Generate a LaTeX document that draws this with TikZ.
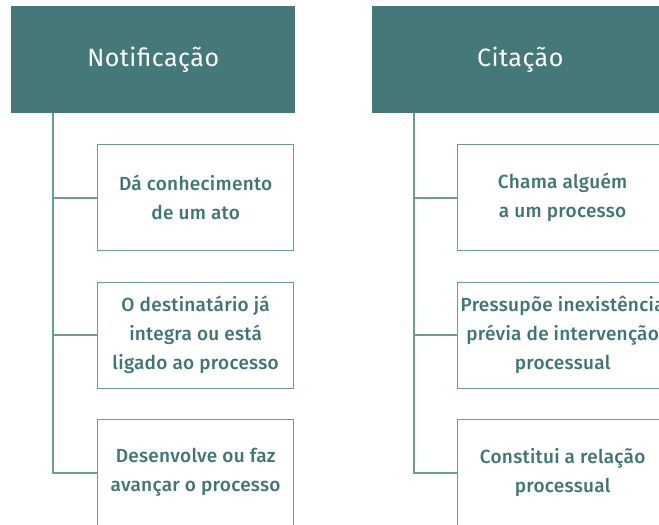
\documentclass[tikz,border=0pt]{standalone}
\usepackage{fontspec}
\setmainfont{Fira Sans}[UprightFont={* Medium},LetterSpace=1.5]
\newfontfamily\headfont{Fira Sans}[LetterSpace=2]
\usepackage{tikz}

\definecolor{headteal}{HTML}{457878}
\definecolor{textteal}{HTML}{3E7575}
\definecolor{lineteal}{HTML}{6B9C9C}

\begin{document}
\begin{tikzpicture}[x=1pt,y=-1pt,
			head node/.style={rectangle,fill=headteal,text=white,inner sep=0pt,minimum height=107pt,anchor=north west,font=\headfont\fontsize{25}{29}\selectfont},
			item node/.style={rectangle,draw=lineteal,line width=1.3pt,text=textteal,inner sep=0pt,minimum height=106pt,align=center,anchor=north west,font=\fontsize{19}{29}\selectfont},
			branch/.style={draw=lineteal,line width=1.8pt}
			]
			
			\def \gap {137.5};
			\def \off {42};
			
			\useasboundingbox (0,0) rectangle (659,525);
			
			% left column
			\node[head node,minimum width=284pt] at (11,6) (N) {Notificação};
			\foreach \txt [count=\i] in {{Dá conhecimento\\de um ato},{O destinatário já\\integra ou está\\ligado ao processo},{Desenvolve ou faz\\avançar o processo}} {
				\node[item node,minimum width=196pt] at (97,{144+\gap*(\i-1)}) (n\i) {\txt};
			}
			
			% right column
			\node[head node,minimum width=296pt] at (372,6) (C) {Citação};
			\foreach \txt [count=\i] in {{Chama alguém\\a um processo},{Pressupõe inexistência\\prévia de intervenção\\processual},{Constitui a relação\\processual}} {
				\node[item node,minimum width=210pt] at (457,{144+\gap*(\i-1)}) (c\i) {\txt};
			}
			
			\coordinate (Nt) at ([xshift=\off pt]N.south west);
			\coordinate (Ct) at ([xshift=\off pt]C.south west);
			
			\draw[branch] (Nt) |- (n3.west);
			\draw[branch] (Ct) |- (c3.west);
			\foreach \i in {1,2} {
				\draw[branch] (n\i.west -| Nt) -- (n\i.west);
				\draw[branch] (c\i.west -| Ct) -- (c\i.west);
			}
		\end{tikzpicture}
\end{document}
